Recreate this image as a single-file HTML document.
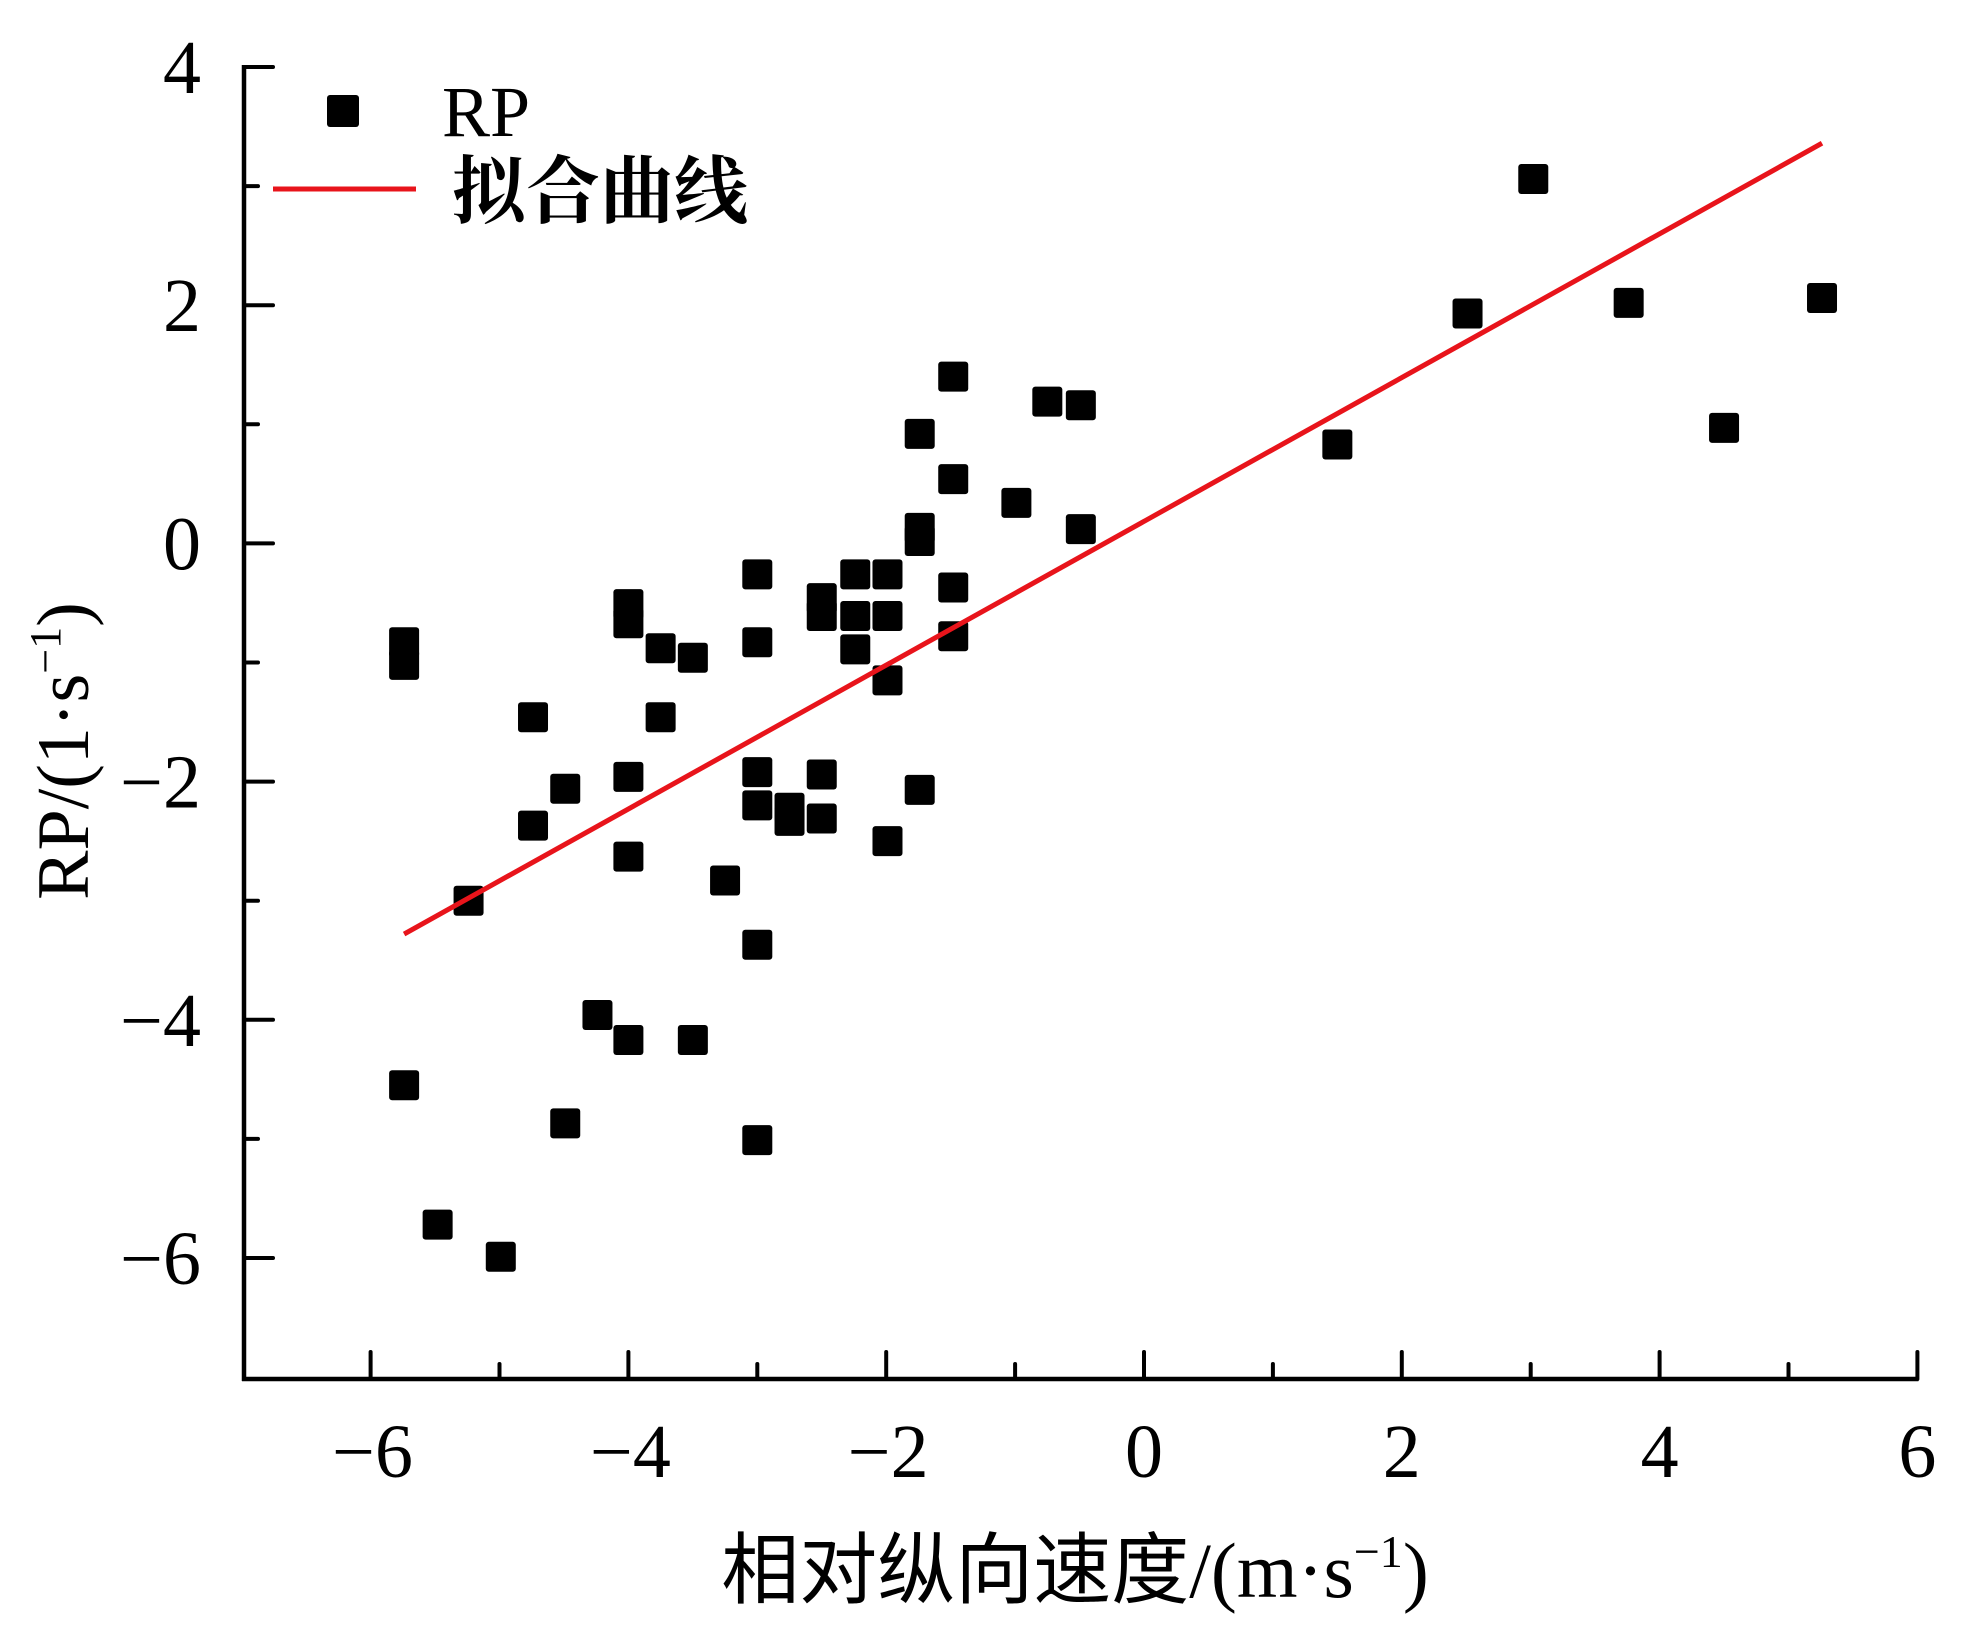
<!DOCTYPE html>
<html><head><meta charset="utf-8"><style>
html,body{margin:0;padding:0;background:#fff;}
svg{display:block;}
text{font-family:"Liberation Serif","Noto Serif CJK SC",serif;fill:#000;}
</style></head><body>
<svg id="chart" width="1979" height="1639" viewBox="0 0 1979 1639" xmlns="http://www.w3.org/2000/svg">
<g id="axes"></g>
<g id="points"></g>
<g id="fit"></g>
<g id="legend">
  <rect x="327" y="95" width="32" height="32" rx="3" fill="#000"/>
  <text x="442" y="136" font-size="72">RP</text>
  <line x1="273" y1="189" x2="416" y2="189" stroke="#e8141b" stroke-width="5"/>
  <text x="452" y="217" font-size="74" font-family="'Noto Sans CJK SC',sans-serif" font-weight="bold">拟合曲线</text>
</g>
<text x="1075" y="1597" font-size="78" text-anchor="middle"><tspan font-family="'Noto Sans CJK SC',sans-serif">相对纵向速度</tspan>/(m·s<tspan font-size="46" dy="-30">−1</tspan><tspan dy="30">)</tspan></text>
<text transform="translate(88,751) rotate(-90)" font-size="74" text-anchor="middle">RP/(1·s<tspan font-size="44" dy="-28">−1</tspan><tspan dy="28">)</tspan></text>
</svg>
<script>
const xs = [-5.74,-5.74,-5.74,-5.48,-5.24,-4.99,-4.74,-4.74,-4.49,-4.49,-4.24,-4.0,-4.0,-4.0,-4.0,-4.0,-3.75,-3.75,-3.5,-3.5,-3.25,-3.0,-3.0,-3.0,-3.0,-3.0,-3.0,-2.75,-2.75,-2.5,-2.5,-2.5,-2.5,-2.24,-2.24,-2.24,-1.99,-1.99,-1.99,-1.99,-1.74,-1.74,-1.74,-1.74,-1.48,-1.48,-1.48,-1.48,-0.99,-0.75,-0.49,-0.49,1.5,2.51,3.02,3.76,4.5,5.26];
const ys = [-0.83,-1.02,-4.55,-5.72,-3.0,-5.99,-1.46,-2.37,-2.06,-4.87,-3.96,-0.51,-0.67,-1.96,-2.63,-4.17,-0.88,-1.46,-0.96,-4.17,-2.83,-0.26,-0.83,-1.92,-2.2,-3.37,-5.01,-2.22,-2.33,-0.46,-0.61,-1.94,-2.31,-0.26,-0.61,-0.89,-0.26,-0.61,-1.15,-2.5,0.92,0.13,0.02,-2.07,1.40,0.54,-0.37,-0.78,0.34,1.19,1.16,0.12,0.83,1.93,3.06,2.02,0.97,2.06];
const fitX = [-5.74, 5.26];
const fitY = [-3.28, 3.36];
const xTicks = [-6,-4,-2,0,2,4,6];
const xTickLabels = ["−6","−4","−2","0","2","4","6"];
const yTicks = [4,2,0,-2,-4,-6];
const yTickLabels = ["4","2","0","−2","−4","−6"];

const X = v => 1144 + v*128.9;
const Y = v => 543.4 - v*119.1;
const NS = "http://www.w3.org/2000/svg";
function mk(tag, attrs, parent){const e=document.createElementNS(NS,tag);for(const k in attrs)e.setAttribute(k,attrs[k]);parent.appendChild(e);return e;}
const axes=document.getElementById('axes');
const x0=244, yb=1379;
let l=mk('line',{x1:x0,y1:65,x2:x0,y2:yb+2,stroke:'#000','stroke-width':4.5},axes);


l=mk('line',{x1:x0-2,y1:yb,x2:X(6)+1,y2:yb,stroke:'#000','stroke-width':4.5},axes);


for(let v=-6;v<=6;v++){
  const maj=v%2===0;
  const t=mk('line',{x1:X(v),y1:yb,x2:X(v),y2:yb-(maj?27:15),stroke:'#000','stroke-width':4,'stroke-linecap':'round'},axes);
  
  
}
for(let v=-6;v<=4;v++){
  const maj=v%2===0;
  const t=mk('line',{x1:x0,y1:Y(v),x2:x0+(maj?29:14),y2:Y(v),stroke:'#000','stroke-width':4,'stroke-linecap':'round'},axes);
  
  
}
xTicks.forEach((v,i)=>{
  const t=mk('text',{x:X(v)+(v<0?2:0),y:1477,'font-size':76,'text-anchor':'middle'},axes);
  t.textContent=xTickLabels[i];
  
  
});
yTicks.forEach((v,i)=>{
  const t=mk('text',{x:201,y:Y(v)+26,'font-size':76,'text-anchor':'end'},axes);
  t.textContent=yTickLabels[i];
  
  
});
const pts=document.getElementById('points');
xs.forEach((v,i)=>{
  const r=mk('rect',{x:X(v)-15,y:Y(ys[i])-15,width:30,height:30,rx:3,fill:'#000'},pts);
  
  
});
const fit=document.getElementById('fit');
const fl=mk('line',{x1:X(fitX[0]),y1:Y(fitY[0]),x2:X(fitX[1]),y2:Y(fitY[1]),stroke:'#e8141b','stroke-width':5},fit);


</script>
</body></html>
